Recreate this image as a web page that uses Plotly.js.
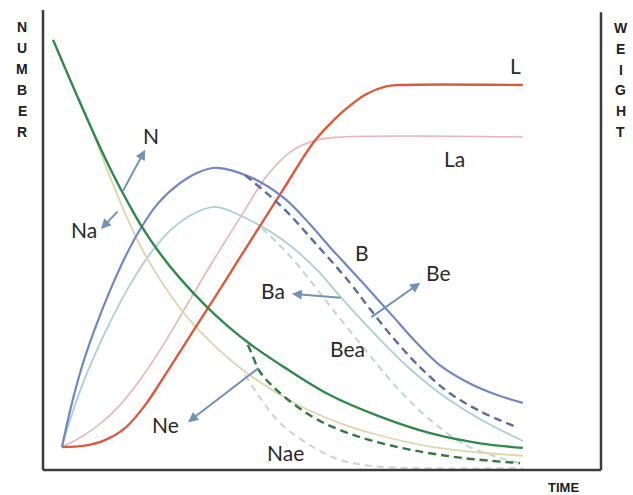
<html><head>
<meta charset="utf-8">
<script src="https://cdn.plot.ly/plotly-3.0.1.min.js"></script>
<style>
body { margin: 0; background: #fff; }
#chart { width: 633px; height: 495px; }
</style>
</head>
<body>
<div id="chart"></div>
<script>
// curves (time 0-100, value 0-100)
const tN  = [1.8, 6.3, 10.2, 12.5, 15.2, 17.7, 21.0, 24.6, 29.4, 33.0, 37.1, 43.4, 51.4, 60.4, 69.4, 78.3, 86.0];
const vN  = [93.5, 80.8, 70.2, 64.4, 58.2, 52.9, 47.0, 41.6, 35.4, 31.4, 27.4, 22.2, 16.3, 11.6, 8.0, 5.8, 4.8];
const tNa = [1.8, 6.3, 8.8, 11.5, 15.1, 18.3, 22.2, 25.8, 31.2, 37.1, 45.5, 53.2, 60.4, 69.4, 78.3, 86.0];
const vNa = [93.5, 80.8, 73.8, 65.3, 54.7, 46.8, 39.2, 33.3, 26.5, 20.6, 14.3, 10.2, 7.5, 5.1, 3.8, 3.1];
const tNe = [36.7, 37.5, 38.9, 42.5, 48.4, 53.2, 58.6, 66.3, 75.3, 85.5];
const vNe = [27.2, 25.0, 21.3, 16.7, 11.5, 8.7, 6.5, 4.3, 2.6, 1.5];
const tNae = [36.2, 39.2, 42.5, 48.4, 53.2, 58.6, 67.6, 86.0];
const vNae = [20.7, 15.2, 10.2, 5.0, 2.2, 0.9, 0.4, 0.4];

const tB  = [3.4, 4.3, 5.7, 7.5, 9.7, 12.0, 14.6, 17.5, 20.5, 24.6, 28.0, 31.2, 37.1, 43.0, 47.8, 51.4, 57.3, 62.2, 67.0, 71.1, 76.5, 81.4, 86.0];
const vB  = [5.0, 10.0, 17.0, 24.5, 32.0, 39.0, 46.0, 52.5, 57.8, 62.4, 64.8, 65.7, 63.7, 59.3, 53.5, 48.5, 40.7, 34.1, 27.6, 22.8, 18.8, 16.3, 14.6];
const tBe = [36.2, 43.0, 49.1, 55.0, 58.6, 63.4, 68.1, 72.9, 78.3, 84.9];
const vBe = [64.1, 57.0, 48.9, 40.7, 35.0, 27.8, 21.7, 16.7, 12.8, 9.3];
const tBa = [3.4, 5.0, 7.2, 10.0, 13.0, 16.2, 19.5, 23.0, 26.8, 30.8, 37.1, 43.0, 49.1, 53.2, 59.1, 65.2, 71.1, 78.3, 86.0];
const vBa = [5.0, 11.5, 19.0, 27.0, 34.5, 41.5, 47.5, 52.3, 55.6, 57.2, 54.3, 50.0, 43.5, 37.8, 30.0, 22.6, 16.7, 11.1, 6.3];
const tBea = [39.2, 44.3, 48.2, 51.4, 56.3, 60.4, 64.5, 69.4, 75.3, 81.4, 85.5];
const vBea = [52.6, 46.5, 40.7, 35.7, 28.3, 22.2, 16.5, 10.9, 5.7, 2.8, 1.5];

const tL  = [3.4, 7.5, 11.1, 14.7, 18.3, 21.9, 26.9, 31.2, 35.3, 43.0, 48.4, 51.4, 54.3, 57.9, 61.5, 64.0, 86.0];
const vL  = [5.0, 5.3, 6.5, 9.1, 14.1, 20.7, 30.2, 38.3, 46.2, 60.9, 71.1, 75.2, 78.5, 81.7, 83.4, 83.7, 83.7];
const tLa = [3.4, 6.6, 10.2, 13.8, 17.4, 21.0, 25.8, 29.9, 35.3, 40.1, 44.3, 48.4, 52.3, 86.0];
const vLa = [5.0, 7.0, 10.0, 14.1, 19.6, 26.1, 35.9, 44.3, 54.8, 63.9, 69.1, 71.5, 72.3, 72.4];

function curve(x, y, color, width, dash) {
  return {
    x: x, y: y, type: 'scatter', mode: 'lines', hoverinfo: 'skip',
    line: {color: color, width: width, dash: dash || 'solid', shape: 'spline', smoothing: 1}
  };
}

const data = [
  curve(tLa, vLa, '#e8b4b4', 1.6),
  curve(tBa, vBa, '#a9d0da', 1.8),
  curve(tBea, vBea, '#bed5dc', 2, '7px,5px'),
  curve(tNa, vNa, '#dcd6ad', 1.8),
  curve(tNae, vNae, '#d2d2cc', 2, '7px,5px'),
  curve(tL, vL, '#d95b3b', 2.4),
  curve(tB, vB, '#7087c6', 2.2),
  curve(tBe, vBe, '#5d6c9c', 2.4, '8px,5px'),
  curve(tN, vN, '#2f8a47', 2.4),
  curve(tNe, vNe, '#2f7a42', 2.4, '8px,5px')
];

// curve labels
const lab = (x, y, s) => ({x: x, y: y, xref: 'x', yref: 'y', text: s, showarrow: false,
  xanchor: 'center', yanchor: 'middle',
  font: {family: 'Lato, sans-serif', size: 21, color: '#2a2a2a'}});
// arrows: tail (ax, ay) -> head (x, y)
const arr = (ax, ay, x, y) => ({x: x, y: y, ax: ax, ay: ay, xref: 'x', yref: 'y', axref: 'x', ayref: 'y',
  text: '', showarrow: true, arrowhead: 2, arrowsize: 1, arrowwidth: 2, arrowcolor: '#7092b8',
  standoff: 0, startstandoff: 0});

const annotations = [
  lab(19.4, 72.8, 'N'), lab(7.4, 52.2, 'Na'), lab(57.2, 47.2, 'B'), lab(70.8, 43.0, 'Be'),
  lab(41.2, 39.1, 'Ba'), lab(54.5, 26.5, 'Bea'), lab(22.0, 9.8, 'Ne'), lab(43.4, 3.7, 'Nae'),
  lab(84.6, 88.0, 'L'), lab(73.8, 67.8, 'La'),
  arr(14.2, 60.4, 18.3, 69.6),
  arr(13.6, 56.5, 10.4, 52.4),
  arr(53.6, 37.4, 44.6, 38.3),
  arr(58.6, 33.0, 67.6, 40.7),
  arr(38.9, 22.4, 26.0, 10.4)
];

// stacked axis words
const axFont = {family: 'Liberation Sans, Arial, sans-serif', size: 14, color: '#222'};
const letter = (x, y, c) => ({x: x, y: y, xref: 'paper', yref: 'paper', xanchor: 'center', yanchor: 'middle',
  text: '<b>' + c + '</b>', showarrow: false, font: axFont});
'NUMBER'.split('').forEach((c, i) => annotations.push(letter(-0.0376, (470 - 27 - 21 * i) / 460, c)));
'WEIGHT'.split('').forEach((c, i) => annotations.push(letter(1.0358, (470 - 28 - 20.8 * i) / 460, c)));
annotations.push({x: 0.932, y: -0.037, xref: 'paper', yref: 'paper', xanchor: 'center', yanchor: 'middle',
  text: '<b>TIME</b>', showarrow: false,
  font: {family: 'Liberation Sans, Arial, sans-serif', size: 13, color: '#222'}});

const frame = {color: '#3c3c3c', width: 2.5};
const shapes = [
  {type: 'line', xref: 'paper', yref: 'paper', x0: 0, x1: 0, y0: 0, y1: 1, line: frame},
  {type: 'line', xref: 'paper', yref: 'paper', x0: 0, x1: 1, y0: 0, y1: 0, line: frame},
  {type: 'line', xref: 'paper', yref: 'paper', x0: 1, x1: 1, y0: 0, y1: 0.995, line: frame}
];

const layout = {
  width: 633, height: 495,
  margin: {l: 43, r: 32, t: 10, b: 25},
  paper_bgcolor: '#fff', plot_bgcolor: '#fff',
  showlegend: false,
  xaxis: {range: [0, 100], showgrid: false, zeroline: false, showticklabels: false, ticks: ''},
  yaxis: {range: [0, 100], showgrid: false, zeroline: false, showticklabels: false, ticks: ''},
  annotations: annotations,
  shapes: shapes
};

Plotly.newPlot('chart', data, layout, {staticPlot: true});
</script>
</body></html>
